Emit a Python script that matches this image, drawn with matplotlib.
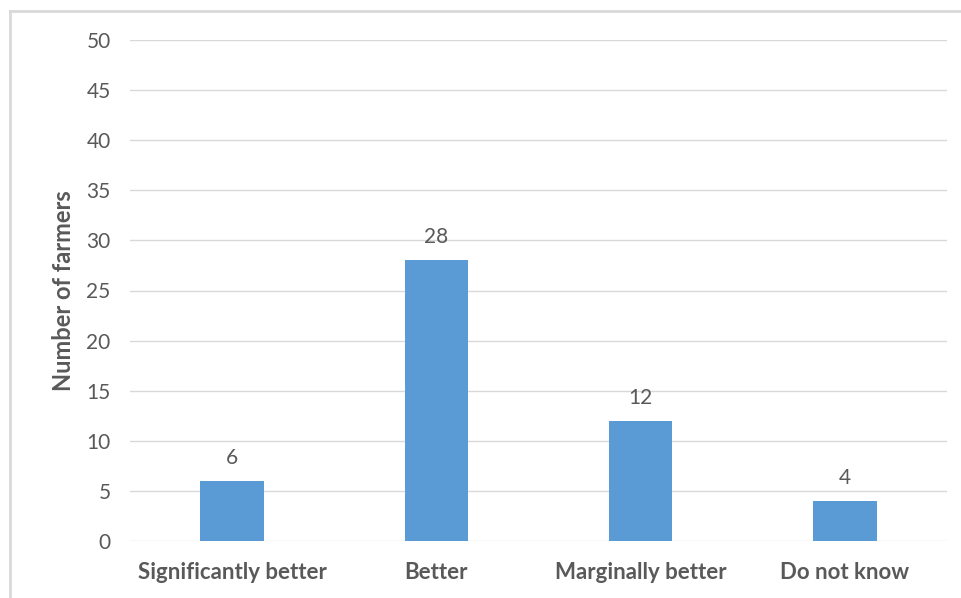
import matplotlib.pyplot as plt
from matplotlib.lines import Line2D

categories = ['Significantly better', 'Better', 'Marginally better', 'Do not know']
farmers = [6, 28, 12, 4]

text_color = '#595959'
plt.rcParams['font.family'] = ['Lato', 'DejaVu Sans']

fig = plt.figure(figsize=(9.62, 5.98), dpi=100)
ax = fig.add_axes([130 / 962, 1 - 541 / 598, 817 / 962, 501 / 598])

x = range(len(categories))
bars = ax.bar(x, farmers, width=0.31, color='#5b9bd5', zorder=3)
for b, v in zip(bars, farmers):
    ax.text(b.get_x() + b.get_width() / 2, v + 1.3, str(v), ha='center', va='bottom',
            fontsize=15, color=text_color)

ax.set_xlim(-0.5, len(categories) - 0.5)
ax.set_ylim(0, 50)
ax.set_yticks(range(0, 51, 5))
ax.set_xticks(list(x))
ax.set_xticklabels(categories, fontsize=16, fontweight='bold', color=text_color)
ax.tick_params(axis='y', labelsize=15, labelcolor=text_color, length=0, pad=14)
ax.tick_params(axis='x', length=0, pad=15)
ax.grid(axis='y', color='#d9d9d9', linewidth=1, zorder=0)
for s in ax.spines.values():
    s.set_visible(False)
ax.set_ylabel('Number of farmers', fontsize=17, fontweight='bold', color=text_color, labelpad=8)

# chart frame, top and left edges only
fig.add_artist(Line2D([10 / 962, 1], [1 - 11 / 598, 1 - 11 / 598], color='#d9d9d9', lw=2))
fig.add_artist(Line2D([10 / 962, 10 / 962], [0, 1 - 11 / 598], color='#d9d9d9', lw=2))

fig.savefig('out.png', dpi=100)
